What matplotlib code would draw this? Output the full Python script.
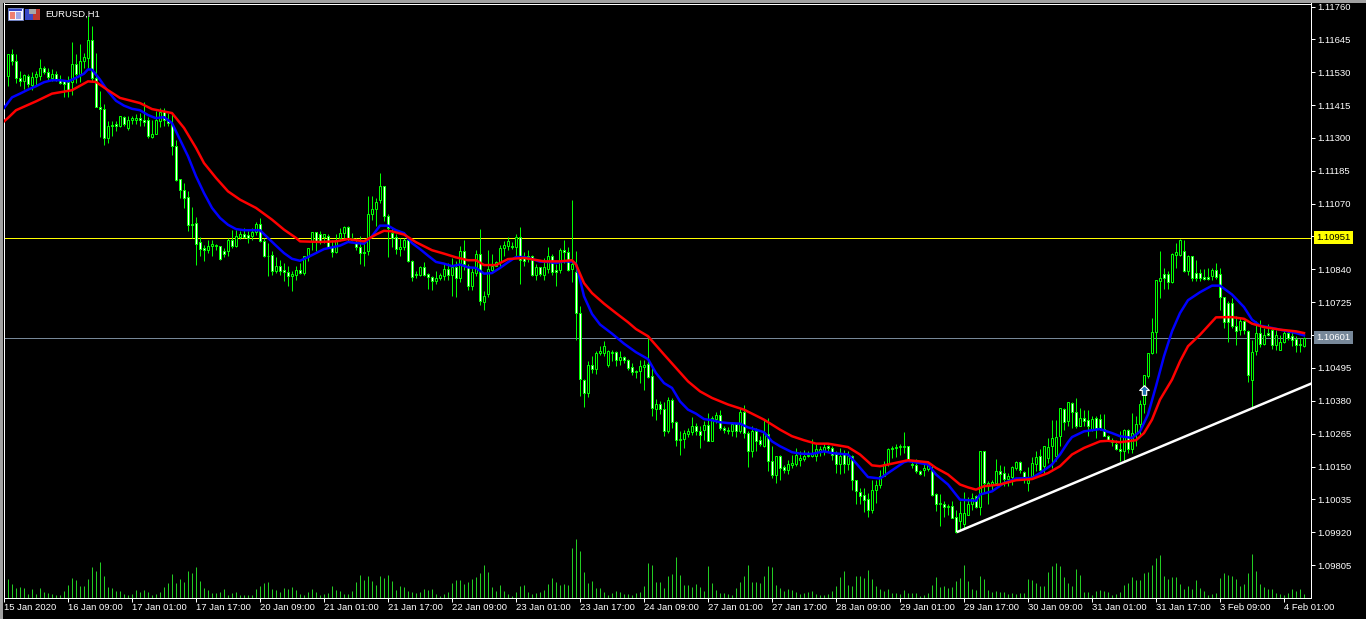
import numpy as np
import matplotlib
matplotlib.use("Agg")
import matplotlib.pyplot as plt
from matplotlib.patches import Rectangle
from matplotlib.path import Path

plt.rcParams['font.family'] = ['Liberation Sans', 'DejaVu Sans']

""" EURUSD H1 - prices are in points (1.11592 = 111592), bars 1 to 325 """
highs = [
    111592,111611,111592,111533,111525,111522,111530,111533,111576,111551,
    111545,111541,111533,111520,111504,111516,111635,111592,111630,111597,
    111726,111693,111597,111463,111420,111358,111358,111358,111378,111378,
    111376,111378,111385,111387,111425,111373,111362,111393,111405,111405,
    111387,111387,111294,111156,111142,111113,111058,111023,110953,110926,
    110942,110942,110929,110923,110915,110950,110979,110977,110973,110985,
    110973,110985,111005,111020,110950,110932,110903,110883,110874,110862,
    110851,110833,110853,110862,110886,110915,110971,110971,110973,110965,
    110965,110944,110962,110985,110993,110991,110967,110950,110958,110944,
    111098,111098,111090,111177,111133,111034,110985,110965,110950,110950,
    110950,110872,110833,110853,110865,110827,110818,110833,110827,110860,
    110862,110880,110868,110923,110944,110857,110845,110909,110981,110763,
    110909,110895,110868,110927,110938,110953,110935,110965,110988,110900,
    110909,110892,110857,110848,110880,110918,110895,110860,110915,110944,
    110918,111084,110903,110711,110456,110518,110536,110553,110573,110588,
    110559,110559,110553,110553,110536,110526,110512,110489,110524,110522,
    110600,110501,110386,110378,110375,110393,110390,110308,110273,110279,
    110285,110323,110302,110291,110308,110337,110326,110340,110349,110291,
    110288,110305,110302,110355,110367,110273,110291,110285,110256,110314,
    110320,110223,110188,110192,110157,110174,110192,110215,110203,110207,
    110203,110246,110227,110221,110230,110225,110221,110203,110215,110209,
    110203,110192,110104,110075,110075,110057,110104,110104,110137,110168,
    110215,110223,110227,110227,110271,110223,110168,110176,110139,110162,
    110168,110151,110057,110054,110028,110017,110028,109999,110028,110060,
    110043,110057,110052,110203,110203,110098,110102,110176,110157,110151,
    110127,110151,110168,110168,110133,110148,110183,110203,110211,110221,
    110250,110314,110314,110355,110355,110375,110375,110390,110355,110347,
    110347,110326,110328,110332,110332,110262,110250,110244,110273,110281,
    110281,110337,110326,110384,110471,110547,110670,110804,110903,110845,
    110833,110897,110932,110946,110944,110892,110888,110874,110841,110841,
    110845,110845,110862,110845,110743,110728,110740,110676,110670,110664,
    110627,110594,110658,110662,110635,110650,110635,110629,110611,110629,
    110629,110629,110606,110600,110603]
lows = [
    111483,111556,111492,111483,111471,111478,111469,111481,111504,111525,
    111504,111498,111498,111490,111443,111443,111451,111492,111495,111545,
    111545,111498,111408,111303,111274,111282,111308,111323,111338,111341,
    111327,111350,111347,111343,111343,111300,111300,111313,111338,111341,
    111341,111242,111148,111090,111055,110973,110950,110854,110886,110870,
    110897,110886,110907,110874,110883,110886,110915,110918,110947,110950,
    110932,110942,110961,110935,110883,110816,110821,110827,110821,110798,
    110783,110763,110804,110825,110821,110868,110909,110903,110930,110932,
    110915,110882,110898,110938,110950,110938,110938,110909,110857,110851,
    110892,111012,110991,111072,111008,110882,110918,110895,110888,110909,
    110865,110798,110810,110816,110816,110771,110767,110790,110802,110802,
    110802,110746,110743,110795,110839,110767,110767,110816,110717,110697,
    110743,110827,110851,110845,110888,110907,110911,110886,110790,110853,
    110865,110818,110804,110816,110802,110827,110822,110783,110827,110862,
    110833,110795,110592,110396,110358,110393,110477,110475,110541,110536,
    110498,110518,110501,110506,110512,110489,110471,110459,110442,110419,
    110460,110328,110312,110335,110256,110267,110285,110223,110192,110215,
    110253,110262,110262,110213,110242,110238,110238,110302,110277,110267,
    110265,110256,110253,110267,110250,110147,110183,110203,110221,110218,
    110133,110110,110092,110102,110127,110125,110145,110151,110151,110169,
    110183,110183,110168,110186,110192,110203,110174,110127,110122,110127,
    110139,110069,110017,110017,109990,109973,109987,110022,110075,110116,
    110153,110180,110183,110192,110197,110168,110145,110127,110119,110116,
    110133,110046,109993,109941,109973,109982,109970,109917,109929,109931,
    109980,109999,110005,109979,110060,110017,110063,110087,110087,110083,
    110081,110087,110139,110127,110092,110063,110110,110133,110133,110127,
    110162,110145,110168,110221,110279,110291,110285,110285,110291,110291,
    110256,110273,110250,110279,110256,110238,110221,110209,110168,110168,
    110197,110197,110221,110256,110337,110460,110544,110547,110740,110772,
    110772,110792,110845,110886,110830,110822,110798,110798,110798,110802,
    110802,110804,110806,110697,110635,110585,110635,110576,110611,110615,
    110445,110355,110541,110568,110576,110606,110561,110559,110559,110582,
    110592,110571,110550,110550,110568]
body_top = [
    111592,111592,111568,111510,111520,111518,111513,111522,111545,111545,
    111531,111525,111525,111504,111498,111495,111560,111560,111569,111583,
    111644,111644,111510,111408,111401,111343,111345,111347,111376,111373,
    111364,111369,111370,111370,111364,111362,111315,111362,111390,111393,
    111362,111350,111273,111156,111119,111093,111000,111002,110935,110915,
    110923,110930,110925,110921,110903,110942,110942,110956,110965,110964,
    110960,110970,111000,111000,110939,110888,110890,110853,110853,110837,
    110832,110825,110837,110837,110886,110915,110971,110971,110965,110962,
    110956,110918,110944,110967,110988,110988,110949,110932,110918,110900,
    111034,111051,111076,111133,111133,111028,110967,110953,110918,110944,
    110944,110869,110822,110848,110848,110823,110813,110810,110819,110841,
    110841,110848,110848,110903,110903,110851,110832,110895,110895,110748,
    110841,110851,110867,110915,110925,110939,110921,110953,110953,110880,
    110886,110888,110848,110848,110848,110886,110888,110837,110909,110907,
    110900,110857,110830,110687,110454,110505,110505,110547,110553,110573,
    110553,110550,110550,110533,110533,110522,110498,110485,110501,110505,
    110507,110466,110370,110370,110351,110384,110384,110306,110246,110267,
    110273,110291,110291,110273,110295,110295,110319,110330,110330,110285,
    110279,110297,110297,110342,110342,110267,110273,110273,110242,110267,
    110265,110169,110188,110188,110148,110158,110162,110190,110179,110188,
    110190,110195,110211,110211,110218,110220,110214,110192,110188,110192,
    110188,110188,110102,110060,110052,110036,110069,110084,110118,110160,
    110211,110215,110218,110221,110222,110221,110160,110155,110136,110144,
    110158,110137,110053,110022,110019,110013,110011,109973,109987,109987,
    110017,110040,110046,110203,110203,110092,110095,110133,110133,110127,
    110118,110148,110165,110165,110130,110102,110162,110183,110186,110221,
    110218,110250,110253,110355,110351,110375,110372,110340,110320,110320,
    110314,110316,110320,110316,110281,110256,110244,110230,110211,110277,
    110277,110267,110300,110370,110471,110547,110620,110804,110810,110824,
    110824,110892,110900,110942,110903,110888,110888,110827,110827,110813,
    110813,110839,110839,110822,110743,110722,110722,110641,110658,110658,
    110623,110550,110617,110617,110611,110617,110627,110611,110587,110617,
    110617,110608,110596,110580,110600]
body_bot = [
    111518,111568,111510,111498,111498,111490,111486,111513,111518,111530,
    111512,111510,111506,111492,111490,111469,111495,111525,111525,111568,
    111580,111510,111408,111401,111300,111300,111343,111343,111343,111350,
    111335,111362,111362,111362,111357,111306,111303,111313,111358,111362,
    111352,111271,111154,111117,111090,110997,110997,110930,110911,110907,
    110907,110921,110921,110876,110895,110903,110923,110923,110953,110953,
    110951,110958,110972,110938,110886,110886,110833,110833,110833,110830,
    110816,110816,110821,110827,110827,110883,110938,110938,110938,110953,
    110918,110900,110900,110950,110967,110946,110944,110918,110897,110898,
    110903,111034,111051,111084,111028,110985,110950,110911,110911,110918,
    110868,110813,110820,110822,110822,110813,110798,110798,110809,110818,
    110822,110822,110810,110810,110860,110781,110781,110827,110728,110725,
    110752,110839,110853,110865,110915,110923,110917,110918,110872,110868,
    110876,110822,110822,110825,110822,110841,110830,110830,110837,110900,
    110839,110841,110687,110456,110407,110407,110491,110491,110547,110547,
    110506,110547,110522,110522,110522,110495,110480,110482,110483,110497,
    110463,110355,110351,110351,110273,110273,110305,110242,110242,110246,
    110265,110272,110273,110262,110277,110238,110238,110316,110284,110277,
    110273,110273,110273,110273,110267,110203,110203,110238,110227,110223,
    110168,110120,110120,110145,110137,110137,110155,110160,110174,110176,
    110186,110188,110188,110204,110204,110213,110190,110160,110160,110160,
    110160,110102,110063,110048,110034,109997,109997,110069,110085,110118,
    110160,110210,110214,110217,110217,110174,110155,110133,110125,110137,
    110141,110052,110020,110019,110008,110008,109970,109920,109958,109950,
    109982,110017,110008,110008,110092,110081,110087,110092,110125,110106,
    110106,110113,110145,110139,110110,110092,110116,110159,110137,110151,
    110179,110221,110186,110256,110306,110308,110340,110293,110293,110308,
    110293,110279,110285,110285,110258,110242,110235,110211,110203,110203,
    110211,110211,110267,110300,110370,110466,110547,110620,110798,110810,
    110795,110795,110889,110892,110833,110833,110810,110810,110810,110806,
    110806,110816,110813,110743,110655,110655,110641,110623,110627,110627,
    110471,110454,110553,110580,110580,110611,110576,110576,110559,110585,
    110600,110592,110576,110575,110573]
# u = bull candle (close above open), d = bear candle
direction = ("uddduduuud" "dudddduduu" "udddduddud" "uuuddduuud" "dddddddddd"
             "uuudduduud" "duuddddudd" "duuduuuddu" "dduuuddddd" "uuuudddduu"
             "ddduddduuu" "dududduudu" "uuuuuududd" "dduduuddud" "duddduduuu"
             "uududdduuu" "dduddudduu" "uudduduudd" "dududduddu" "ddudduuuuu"
             "uuuuudddud" "uddddduuuu" "uuuuuddddu" "uddududduu" "uududuuudd"
             "uuudduuudu" "uuuududdud" "dudddduddu" "duuuuuuuud"
             "duuududddd" "duddddddud" "duududduuu" "ddddu")
volumes = [
    19,14,10,11,10,4,9,4,10,6, 5,4,3,3,7,13,20,18,12,12,
    19,31,27,36,22,11,10,7,7,4, 3,4,8,6,8,6,3,4,6,11,
    15,24,15,19,16,27,25,31,17,10, 8,5,5,6,9,3,5,6,3,3,
    3,3,9,12,15,16,9,8,6,10, 9,11,8,4,3,6,9,6,3,4,
    5,12,8,7,4,4,7,16,23,18, 22,17,13,22,20,23,17,8,12,11,
    7,6,5,6,9,8,9,4,2,4, 6,15,18,18,14,16,19,21,25,33,
    26,11,7,13,7,4,2,6,12,13, 6,4,5,6,8,14,20,16,13,14,
    13,50,59,47,26,15,17,10,10,6, 3,5,7,6,4,4,3,5,6,12,
    35,33,16,16,10,22,24,41,23,13, 13,11,14,11,7,32,15,8,5,5,
    4,3,10,16,22,33,16,16,15,22, 32,31,13,10,7,9,8,6,4,5,
    6,7,4,3,3,4,7,12,21,27, 13,12,22,22,20,28,19,12,9,7,
    9,5,5,4,8,5,5,5,2,3, 5,13,21,11,12,10,11,17,20,33,
    17,9,8,22,19,8,6,7,6,6, 4,5,4,5,5,19,18,15,12,12,
    26,32,35,32,21,15,12,29,23,6, 6,3,7,8,7,6,3,4,6,13,
    15,21,18,18,25,26,33,40,43,22, 19,21,21,14,9,12,9,18,10,7,
    3,4,5,20,25,23,22,19,12,14, 25,44,27,14,11,9,9,5,4,3,
    5,9,7,9,4]

blue_bars = [0,2,4,6,8,10,12,14,16,18,20,21,22,24,26,28,30,32,34,36,38,40,42,44,46,48,50,52,54,56,58,60,64,66,68,70,72,74,76,78,
             80,84,86,88,90,92,94,96,98,100,102,104,106,108,110,112,114,116,118,120,122,124,126,128,130,132,134,136,138,140,142,143,144,145,147,149,152,155,158,
             161,163,165,167,169,171,173,175,177,179,181,184,186,188,190,192,194,197,199,202,205,207,211,213,216,219,221,225,226,229,231,233,236,239,
             243,244,247,250,253,257,259,262,264,266,267,270,274,277,279,282,284,286,288,290,292,294,296,299,302,304,307,310,312,314,317,320,323,325]
blue_ma = [111405,111442,111455,111469,111481,111495,111502,111502,111498,111510,111525,111540,111539,111504,111463,111430,111413,111402,111397,111380,111369,111373,111352,111294,111236,111166,111107,111055,111020,110996,110981,110977,110977,110950,110923,110897,110877,110870,110883,110897,
           110911,110923,110936,110932,110930,110956,110993,110993,110977,110967,110932,110911,110888,110866,110860,110851,110857,110847,110845,110825,110827,110845,110865,110883,110883,110876,110867,110866,110862,110868,110867,110860,110804,110746,110684,110647,110615,110580,110550,
           110526,110477,110442,110425,110378,110349,110335,110316,110312,110305,110302,110300,110287,110279,110270,110238,110221,110200,110195,110194,110203,110197,110192,110162,110113,110108,110127,110165,110169,110162,110157,110122,110087,110034,
           110030,110052,110063,110092,110108,110110,110127,110157,110192,110235,110253,110273,110281,110267,110256,110250,110273,110332,110431,110536,110623,110687,110732,110760,110783,110783,110752,110708,110664,110643,110635,110626,110617,110609]
red_bars = [0,1,3,8,12,17,21,23,26,29,34,37,42,45,48,50,53,56,59,63,67,70,73,74,79,
            83,86,90,93,95,97,100,103,107,110,113,116,118,120,123,126,130,135,139,142,143,145,147,150,153,156,158,
            161,165,168,171,174,177,181,185,190,194,197,200,203,206,211,214,217,219,222,226,231,233,236,239,
            241,243,245,249,253,257,261,264,267,270,274,276,279,283,285,287,289,292,294,296,299,303,307,310,312,315,319,323,325]
red_ma = [111358,111370,111397,111428,111455,111467,111498,111496,111467,111440,111422,111401,111387,111335,111265,111212,111160,111113,111084,111055,111014,110979,110950,110938,110936,
          110938,110946,110938,110962,110975,110973,110962,110935,110907,110895,110882,110872,110872,110855,110855,110876,110880,110868,110868,110872,110857,110792,110757,110720,110687,110655,110631,
          110606,110542,110495,110448,110413,110390,110367,110349,110314,110279,110256,110242,110230,110230,110218,110192,110154,110151,110160,110172,110165,110145,110122,110087,
          110077,110069,110081,110087,110102,110106,110127,110151,110192,110215,110238,110240,110235,110242,110267,110314,110384,110454,110518,110571,110611,110672,110673,110667,110650,110638,110629,110623,110617]

price_ticks = [111760 - 115 * k for k in range(18)]
time_labels = ["15 Jan 2020", "16 Jan 09:00", "17 Jan 01:00", "17 Jan 17:00", "20 Jan 09:00",
               "21 Jan 01:00", "21 Jan 17:00", "22 Jan 09:00", "23 Jan 01:00", "23 Jan 17:00",
               "24 Jan 09:00", "27 Jan 01:00", "27 Jan 17:00", "28 Jan 09:00", "29 Jan 01:00",
               "29 Jan 17:00", "30 Jan 09:00", "31 Jan 01:00", "31 Jan 17:00", "3 Feb 09:00",
               "4 Feb 01:00"]
level_price = 110951
bid_price = 110601
trend_bars = [238.5, 326.75]
trend_prices = [109922, 110440]
arrow_bar = 285
arrow_price = 110416

W, H = 1366, 619
GREEN = '#00ff00'
PX = 0.72  # one pixel in points at dpi 100
bars = np.arange(1, len(highs) + 1)
up = np.array([c == 'u' for c in direction])
top = np.array(body_top) / 1e5
bot = np.array(body_bot) / 1e5
hi = np.array(highs) / 1e5
lo = np.array(lows) / 1e5

fig = plt.figure(figsize=(W / 100, H / 100), dpi=100, facecolor='black')
rect = [4.0 / W, (H - 597.5) / H, 1307 / W, 594 / H]

# volumes sit behind the price axes
vol_ax = fig.add_axes(rect, facecolor='black', zorder=1)
vol_ax.vlines(bars, 0, volumes, color='#22cc22', lw=PX)
vol_ax.set_xlim(0, 326.75)
vol_ax.set_ylim(0, 594)
vol_ax.axis('off')

ax = fig.add_axes(rect, zorder=2)
ax.patch.set_alpha(0)
ax.set_xlim(0, 326.75)
ax.set_ylim(109691.5 / 1e5, 111770.5 / 1e5)

ax.axhline(level_price / 1e5, color='#ffff00', lw=PX, zorder=1)
ax.axhline(bid_price / 1e5, color='#778899', lw=PX, zorder=1)

ax.vlines(bars, lo, hi, color=GREEN, lw=PX, zorder=2)
ax.bar(bars[up], np.maximum(top[up] - bot[up], 1e-6), bottom=bot[up], width=0.5,
       facecolor='black', edgecolor=GREEN, lw=PX, zorder=3)
ax.bar(bars[~up], np.maximum(top[~up] - bot[~up], 1e-6), bottom=bot[~up], width=0.5,
       facecolor='white', edgecolor=GREEN, lw=PX, zorder=3)

ax.plot(blue_bars, np.array(blue_ma) / 1e5, color='#0000ff', lw=1.8, zorder=5)
ax.plot(red_bars, np.array(red_ma) / 1e5, color='#ff0000', lw=1.8, zorder=6)
ax.plot(trend_bars, np.array(trend_prices) / 1e5, color='white', lw=1.8, zorder=7)

# buy arrow
arrow = Path([(0, 1), (1, 0), (0.45, 0), (0.45, -1), (-0.45, -1), (-0.45, 0), (-1, 0), (0, 1)])
ax.plot([arrow_bar], [arrow_price / 1e5], marker=arrow, ms=7, mfc='#1f6fb0', mec='white',
        mew=0.8, ls='none', zorder=8)

for s in ax.spines.values():
    s.set_color('white')
    s.set_linewidth(PX)
ax.yaxis.tick_right()
ax.set_yticks(np.array(price_ticks) / 1e5)
ax.set_yticklabels(["{:.5f}".format(p / 1e5) for p in price_ticks])
ax.set_xticks(np.arange(len(time_labels)) * 16)
ax.set_xticklabels(time_labels, ha='left')
ax.tick_params(axis='both', colors='white', labelcolor='white', length=3, width=PX,
               labelsize=6.8, pad=1.5)
ax.tick_params(axis='x', pad=1)

# level and bid price tags over the tick labels
ax.text(1 + 5.5 / 1307, level_price / 1e5, "1.10951", transform=ax.get_yaxis_transform(),
        color='black', fontsize=6.8, va='center', ha='left', zorder=10,
        bbox=dict(facecolor='#ffff00', edgecolor='none', pad=1.6))
ax.text(1 + 5.5 / 1307, bid_price / 1e5, "1.10601", transform=ax.get_yaxis_transform(),
        color='white', fontsize=6.8, va='center', ha='left', zorder=10,
        bbox=dict(facecolor='#778899', edgecolor='none', pad=1.6))

# window chrome and the icons at top left, in pixels
over = fig.add_axes([0, 0, 1, 1], zorder=3)
over.set_xlim(0, W)
over.set_ylim(H, 0)
over.axis('off')
over.add_patch(Rectangle((0, 0), W, 3, color='#a0a0a0', lw=0))
over.add_patch(Rectangle((0, 0), 3, H, color='#a0a0a0', lw=0))
over.add_patch(Rectangle((8, 8), 15, 12, facecolor='#f4f4ff', edgecolor='#7080c0', lw=PX))
over.add_patch(Rectangle((9, 9), 13, 2, color='#3848c8', lw=0))
over.add_patch(Rectangle((10, 12), 5, 7, color='#f08070', lw=0))
over.add_patch(Rectangle((16, 12), 5, 7, color='#a0a8e8', lw=0))
over.add_patch(Rectangle((25, 9), 8, 11, color='#3848c8', lw=0))
over.add_patch(Rectangle((33, 9), 7, 11, color='#c03830', lw=0))
over.add_patch(Rectangle((29, 9), 7, 5, color='#a8a8a8', lw=0))
over.text(45, 14.5, "EURUSD,H1", color='white', fontsize=6.8, va='center', ha='left')

fig.savefig("out.png", dpi=100, facecolor='black')
